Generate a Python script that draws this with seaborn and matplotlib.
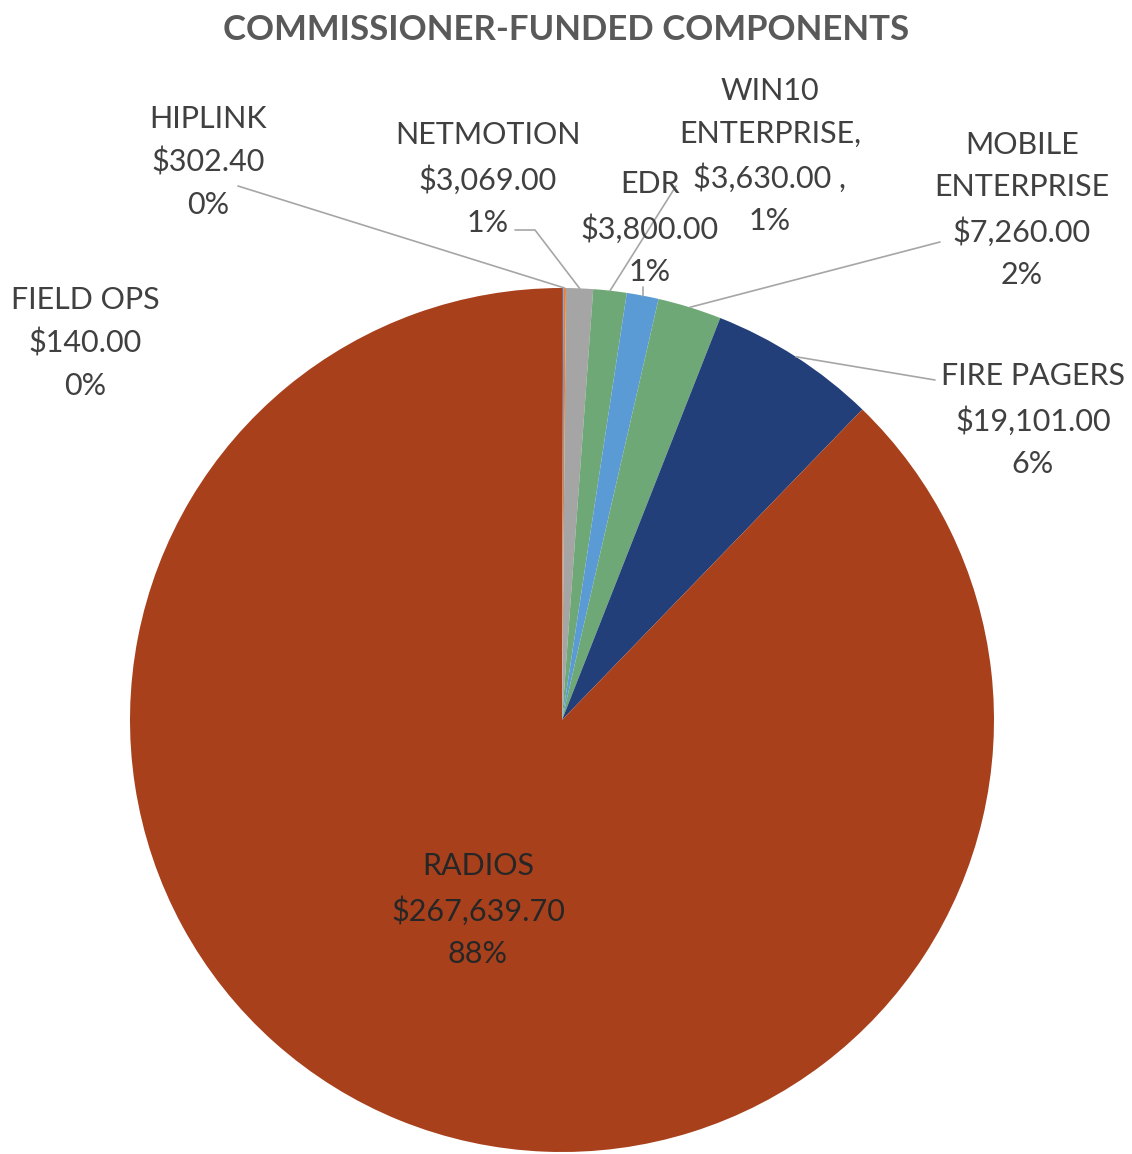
import matplotlib
matplotlib.use("Agg")
import matplotlib.pyplot as plt
import seaborn as sns
import numpy as np

# data, clockwise from 12 o'clock
components = ["FIELD OPS", "HIPLINK", "NETMOTION", "EDR", "WIN10 ENTERPRISE",
              "MOBILE ENTERPRISE", "FIRE PAGERS", "RADIOS"]
amounts = [140.00, 302.40, 3069.00, 3800.00, 3630.00, 7260.00, 19101.00, 267639.70]
label_text = [
    "FIELD OPS\n$140.00\n0%",
    "HIPLINK\n$302.40\n0%",
    "NETMOTION\n$3,069.00\n1%",
    "EDR\n$3,800.00\n1%",
    "WIN10\nENTERPRISE,\n$3,630.00 ,\n1%",
    "MOBILE\nENTERPRISE\n$7,260.00\n2%",
    "FIRE PAGERS\n$19,101.00\n6%",
    "RADIOS\n$267,639.70\n88%",
]
colors = ["#4472C4", "#ED7D31", "#A5A5A5", "#6FA877", "#5B9BD5",
          "#6FA877", "#233F7A", "#A8401C"]

sns.set_theme(style="white")
plt.rcParams["font.family"] = ["Lato", "DejaVu Sans"]

W, H = 1132, 1154
cx, cy, R = 562, 720, 432  # pie centre / radius in pixels

fig = plt.figure(figsize=(W / 100, H / 100), dpi=100)
ax = fig.add_axes([0, 0, 1, 1])

wedges, _ = ax.pie(amounts, colors=colors, startangle=90, counterclock=False,
                   radius=1.0, wedgeprops=dict(linewidth=0))

# pie() resets the limits, so set them afterwards
ax.set_xlim(-cx / R, (W - cx) / R)
ax.set_ylim(-(H - cy) / R, cy / R)
ax.set_aspect("equal")
ax.axis("off")


def px(x, y):
    return (x - cx) / R, (cy - y) / R


# label centres (pixels) and leader start points (pixels, None = no line)
label_pos = [(85, 343), (208, 162), (488, 179), (650, 228), (770, 156),
             (1022, 210), (1033, 420), (478, 910)]
leader_from = [None, (238, 186), (515, 230), (676, 186), (646, 290),
               (940, 242), (935, 380), None]

txt_col = "#404040"
for i, w in enumerate(wedges):
    tx, ty = px(*label_pos[i])
    col = "#262626" if components[i] == "RADIOS" else txt_col
    ax.text(tx, ty, label_text[i], ha="center", va="center", fontsize=22,
            color=col, linespacing=1.62)
    if leader_from[i] is not None:
        mid = np.deg2rad((w.theta1 + w.theta2) / 2)
        ex, ey = np.cos(mid), np.sin(mid)
        sx, sy = px(*leader_from[i])
        if components[i] == "NETMOTION":
            kx, ky = px(535, 230)
            ax.plot([sx, kx, ex], [sy, ky, ey], color="#A6A6A6", lw=1.2)
        elif components[i] == "WIN10 ENTERPRISE":
            ax.plot([ex, ex], [ey, ey + 0.02], color="#A6A6A6", lw=1.2)
        else:
            ax.plot([sx, ex], [sy, ey], color="#A6A6A6", lw=1.2)

fig.text(0.5, 1 - 30 / H, "COMMISSIONER-FUNDED COMPONENTS", ha="center",
         va="center", fontsize=25, fontweight="bold", color="#595959")

fig.savefig("out.png", dpi=100)
plt.close(fig)
